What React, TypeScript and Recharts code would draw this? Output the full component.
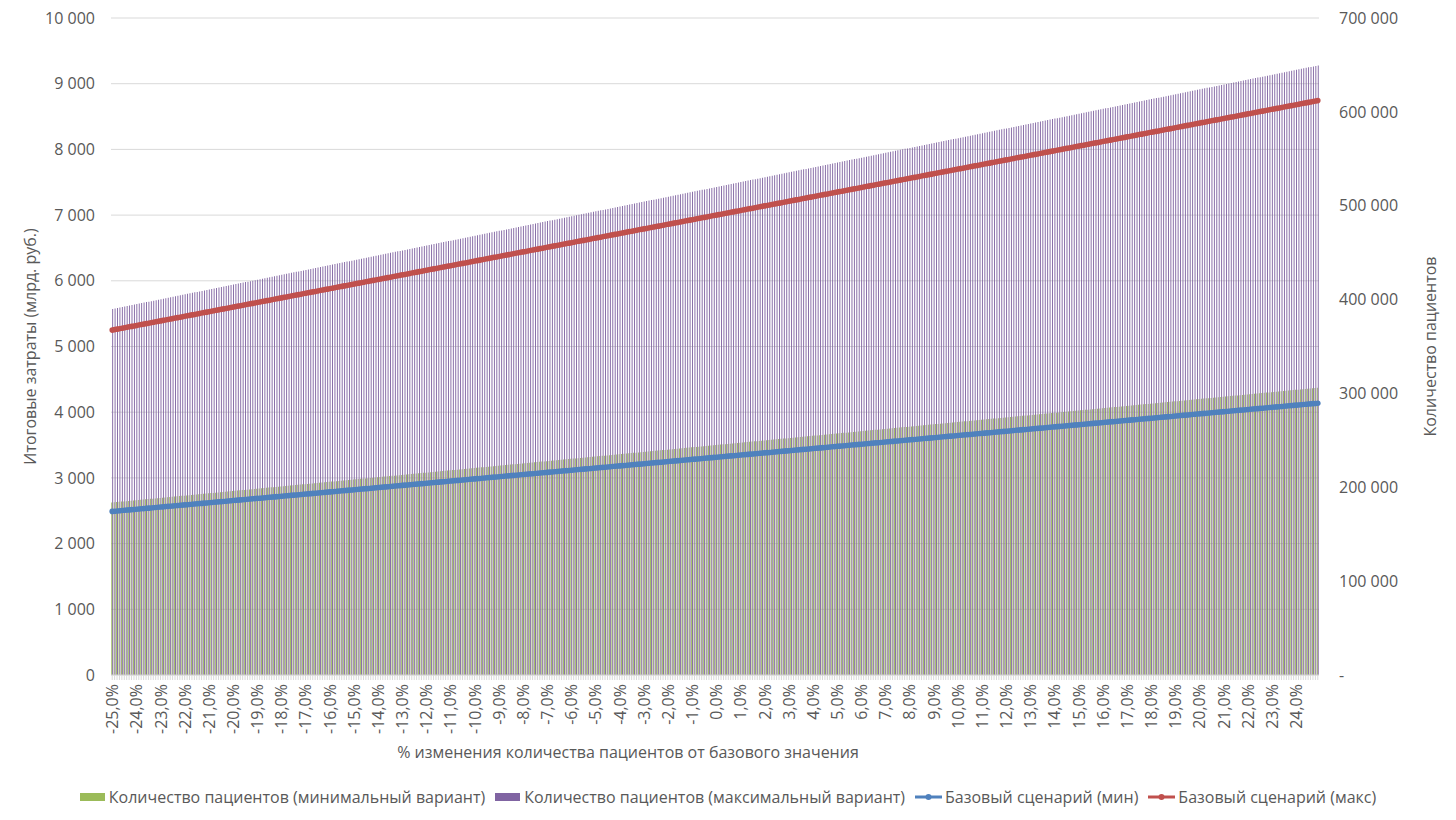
import React from "react";
import {
  ComposedChart,
  Bar,
  Line,
  XAxis,
  YAxis,
  CartesianGrid,
  Legend,
} from "recharts";

// % change of patient count from the base value, step 0,1%
const changePct = [
  -25, -24.9, -24.8, -24.7, -24.6, -24.5, -24.4, -24.3, -24.2, -24.1,
  -24, -23.9, -23.8, -23.7, -23.6, -23.5, -23.4, -23.3, -23.2, -23.1,
  -23, -22.9, -22.8, -22.7, -22.6, -22.5, -22.4, -22.3, -22.2, -22.1,
  -22, -21.9, -21.8, -21.7, -21.6, -21.5, -21.4, -21.3, -21.2, -21.1,
  -21, -20.9, -20.8, -20.7, -20.6, -20.5, -20.4, -20.3, -20.2, -20.1,
  -20, -19.9, -19.8, -19.7, -19.6, -19.5, -19.4, -19.3, -19.2, -19.1,
  -19, -18.9, -18.8, -18.7, -18.6, -18.5, -18.4, -18.3, -18.2, -18.1,
  -18, -17.9, -17.8, -17.7, -17.6, -17.5, -17.4, -17.3, -17.2, -17.1,
  -17, -16.9, -16.8, -16.7, -16.6, -16.5, -16.4, -16.3, -16.2, -16.1,
  -16, -15.9, -15.8, -15.7, -15.6, -15.5, -15.4, -15.3, -15.2, -15.1,
  -15, -14.9, -14.8, -14.7, -14.6, -14.5, -14.4, -14.3, -14.2, -14.1,
  -14, -13.9, -13.8, -13.7, -13.6, -13.5, -13.4, -13.3, -13.2, -13.1,
  -13, -12.9, -12.8, -12.7, -12.6, -12.5, -12.4, -12.3, -12.2, -12.1,
  -12, -11.9, -11.8, -11.7, -11.6, -11.5, -11.4, -11.3, -11.2, -11.1,
  -11, -10.9, -10.8, -10.7, -10.6, -10.5, -10.4, -10.3, -10.2, -10.1,
  -10, -9.9, -9.8, -9.7, -9.6, -9.5, -9.4, -9.3, -9.2, -9.1,
  -9, -8.9, -8.8, -8.7, -8.6, -8.5, -8.4, -8.3, -8.2, -8.1,
  -8, -7.9, -7.8, -7.7, -7.6, -7.5, -7.4, -7.3, -7.2, -7.1,
  -7, -6.9, -6.8, -6.7, -6.6, -6.5, -6.4, -6.3, -6.2, -6.1,
  -6, -5.9, -5.8, -5.7, -5.6, -5.5, -5.4, -5.3, -5.2, -5.1,
  -5, -4.9, -4.8, -4.7, -4.6, -4.5, -4.4, -4.3, -4.2, -4.1,
  -4, -3.9, -3.8, -3.7, -3.6, -3.5, -3.4, -3.3, -3.2, -3.1,
  -3, -2.9, -2.8, -2.7, -2.6, -2.5, -2.4, -2.3, -2.2, -2.1,
  -2, -1.9, -1.8, -1.7, -1.6, -1.5, -1.4, -1.3, -1.2, -1.1,
  -1, -0.9, -0.8, -0.7, -0.6, -0.5, -0.4, -0.3, -0.2, -0.1,
  0, 0.1, 0.2, 0.3, 0.4, 0.5, 0.6, 0.7, 0.8, 0.9,
  1, 1.1, 1.2, 1.3, 1.4, 1.5, 1.6, 1.7, 1.8, 1.9,
  2, 2.1, 2.2, 2.3, 2.4, 2.5, 2.6, 2.7, 2.8, 2.9,
  3, 3.1, 3.2, 3.3, 3.4, 3.5, 3.6, 3.7, 3.8, 3.9,
  4, 4.1, 4.2, 4.3, 4.4, 4.5, 4.6, 4.7, 4.8, 4.9,
  5, 5.1, 5.2, 5.3, 5.4, 5.5, 5.6, 5.7, 5.8, 5.9,
  6, 6.1, 6.2, 6.3, 6.4, 6.5, 6.6, 6.7, 6.8, 6.9,
  7, 7.1, 7.2, 7.3, 7.4, 7.5, 7.6, 7.7, 7.8, 7.9,
  8, 8.1, 8.2, 8.3, 8.4, 8.5, 8.6, 8.7, 8.8, 8.9,
  9, 9.1, 9.2, 9.3, 9.4, 9.5, 9.6, 9.7, 9.8, 9.9,
  10, 10.1, 10.2, 10.3, 10.4, 10.5, 10.6, 10.7, 10.8, 10.9,
  11, 11.1, 11.2, 11.3, 11.4, 11.5, 11.6, 11.7, 11.8, 11.9,
  12, 12.1, 12.2, 12.3, 12.4, 12.5, 12.6, 12.7, 12.8, 12.9,
  13, 13.1, 13.2, 13.3, 13.4, 13.5, 13.6, 13.7, 13.8, 13.9,
  14, 14.1, 14.2, 14.3, 14.4, 14.5, 14.6, 14.7, 14.8, 14.9,
  15, 15.1, 15.2, 15.3, 15.4, 15.5, 15.6, 15.7, 15.8, 15.9,
  16, 16.1, 16.2, 16.3, 16.4, 16.5, 16.6, 16.7, 16.8, 16.9,
  17, 17.1, 17.2, 17.3, 17.4, 17.5, 17.6, 17.7, 17.8, 17.9,
  18, 18.1, 18.2, 18.3, 18.4, 18.5, 18.6, 18.7, 18.8, 18.9,
  19, 19.1, 19.2, 19.3, 19.4, 19.5, 19.6, 19.7, 19.8, 19.9,
  20, 20.1, 20.2, 20.3, 20.4, 20.5, 20.6, 20.7, 20.8, 20.9,
  21, 21.1, 21.2, 21.3, 21.4, 21.5, 21.6, 21.7, 21.8, 21.9,
  22, 22.1, 22.2, 22.3, 22.4, 22.5, 22.6, 22.7, 22.8, 22.9,
  23, 23.1, 23.2, 23.3, 23.4, 23.5, 23.6, 23.7, 23.8, 23.9,
  24, 24.1, 24.2, 24.3, 24.4, 24.5, 24.6, 24.7, 24.8, 24.9,
];

// patients, minimal variant (right axis)
const patientsMin = [
  183750, 183995, 184240, 184485, 184730, 184975, 185220, 185465, 185710, 185955,
  186200, 186445, 186690, 186935, 187180, 187425, 187670, 187915, 188160, 188405,
  188650, 188895, 189140, 189385, 189630, 189875, 190120, 190365, 190610, 190855,
  191100, 191345, 191590, 191835, 192080, 192325, 192570, 192815, 193060, 193305,
  193550, 193795, 194040, 194285, 194530, 194775, 195020, 195265, 195510, 195755,
  196000, 196245, 196490, 196735, 196980, 197225, 197470, 197715, 197960, 198205,
  198450, 198695, 198940, 199185, 199430, 199675, 199920, 200165, 200410, 200655,
  200900, 201145, 201390, 201635, 201880, 202125, 202370, 202615, 202860, 203105,
  203350, 203595, 203840, 204085, 204330, 204575, 204820, 205065, 205310, 205555,
  205800, 206045, 206290, 206535, 206780, 207025, 207270, 207515, 207760, 208005,
  208250, 208495, 208740, 208985, 209230, 209475, 209720, 209965, 210210, 210455,
  210700, 210945, 211190, 211435, 211680, 211925, 212170, 212415, 212660, 212905,
  213150, 213395, 213640, 213885, 214130, 214375, 214620, 214865, 215110, 215355,
  215600, 215845, 216090, 216335, 216580, 216825, 217070, 217315, 217560, 217805,
  218050, 218295, 218540, 218785, 219030, 219275, 219520, 219765, 220010, 220255,
  220500, 220745, 220990, 221235, 221480, 221725, 221970, 222215, 222460, 222705,
  222950, 223195, 223440, 223685, 223930, 224175, 224420, 224665, 224910, 225155,
  225400, 225645, 225890, 226135, 226380, 226625, 226870, 227115, 227360, 227605,
  227850, 228095, 228340, 228585, 228830, 229075, 229320, 229565, 229810, 230055,
  230300, 230545, 230790, 231035, 231280, 231525, 231770, 232015, 232260, 232505,
  232750, 232995, 233240, 233485, 233730, 233975, 234220, 234465, 234710, 234955,
  235200, 235445, 235690, 235935, 236180, 236425, 236670, 236915, 237160, 237405,
  237650, 237895, 238140, 238385, 238630, 238875, 239120, 239365, 239610, 239855,
  240100, 240345, 240590, 240835, 241080, 241325, 241570, 241815, 242060, 242305,
  242550, 242795, 243040, 243285, 243530, 243775, 244020, 244265, 244510, 244755,
  245000, 245245, 245490, 245735, 245980, 246225, 246470, 246715, 246960, 247205,
  247450, 247695, 247940, 248185, 248430, 248675, 248920, 249165, 249410, 249655,
  249900, 250145, 250390, 250635, 250880, 251125, 251370, 251615, 251860, 252105,
  252350, 252595, 252840, 253085, 253330, 253575, 253820, 254065, 254310, 254555,
  254800, 255045, 255290, 255535, 255780, 256025, 256270, 256515, 256760, 257005,
  257250, 257495, 257740, 257985, 258230, 258475, 258720, 258965, 259210, 259455,
  259700, 259945, 260190, 260435, 260680, 260925, 261170, 261415, 261660, 261905,
  262150, 262395, 262640, 262885, 263130, 263375, 263620, 263865, 264110, 264355,
  264600, 264845, 265090, 265335, 265580, 265825, 266070, 266315, 266560, 266805,
  267050, 267295, 267540, 267785, 268030, 268275, 268520, 268765, 269010, 269255,
  269500, 269745, 269990, 270235, 270480, 270725, 270970, 271215, 271460, 271705,
  271950, 272195, 272440, 272685, 272930, 273175, 273420, 273665, 273910, 274155,
  274400, 274645, 274890, 275135, 275380, 275625, 275870, 276115, 276360, 276605,
  276850, 277095, 277340, 277585, 277830, 278075, 278320, 278565, 278810, 279055,
  279300, 279545, 279790, 280035, 280280, 280525, 280770, 281015, 281260, 281505,
  281750, 281995, 282240, 282485, 282730, 282975, 283220, 283465, 283710, 283955,
  284200, 284445, 284690, 284935, 285180, 285425, 285670, 285915, 286160, 286405,
  286650, 286895, 287140, 287385, 287630, 287875, 288120, 288365, 288610, 288855,
  289100, 289345, 289590, 289835, 290080, 290325, 290570, 290815, 291060, 291305,
  291550, 291795, 292040, 292285, 292530, 292775, 293020, 293265, 293510, 293755,
  294000, 294245, 294490, 294735, 294980, 295225, 295470, 295715, 295960, 296205,
  296450, 296695, 296940, 297185, 297430, 297675, 297920, 298165, 298410, 298655,
  298900, 299145, 299390, 299635, 299880, 300125, 300370, 300615, 300860, 301105,
  301350, 301595, 301840, 302085, 302330, 302575, 302820, 303065, 303310, 303555,
  303800, 304045, 304290, 304535, 304780, 305025, 305270, 305515, 305760, 306005,
];

// patients, maximal variant (right axis)
const patientsMax = [
  390000, 390520, 391040, 391560, 392080, 392600, 393120, 393640, 394160, 394680,
  395200, 395720, 396240, 396760, 397280, 397800, 398320, 398840, 399360, 399880,
  400400, 400920, 401440, 401960, 402480, 403000, 403520, 404040, 404560, 405080,
  405600, 406120, 406640, 407160, 407680, 408200, 408720, 409240, 409760, 410280,
  410800, 411320, 411840, 412360, 412880, 413400, 413920, 414440, 414960, 415480,
  416000, 416520, 417040, 417560, 418080, 418600, 419120, 419640, 420160, 420680,
  421200, 421720, 422240, 422760, 423280, 423800, 424320, 424840, 425360, 425880,
  426400, 426920, 427440, 427960, 428480, 429000, 429520, 430040, 430560, 431080,
  431600, 432120, 432640, 433160, 433680, 434200, 434720, 435240, 435760, 436280,
  436800, 437320, 437840, 438360, 438880, 439400, 439920, 440440, 440960, 441480,
  442000, 442520, 443040, 443560, 444080, 444600, 445120, 445640, 446160, 446680,
  447200, 447720, 448240, 448760, 449280, 449800, 450320, 450840, 451360, 451880,
  452400, 452920, 453440, 453960, 454480, 455000, 455520, 456040, 456560, 457080,
  457600, 458120, 458640, 459160, 459680, 460200, 460720, 461240, 461760, 462280,
  462800, 463320, 463840, 464360, 464880, 465400, 465920, 466440, 466960, 467480,
  468000, 468520, 469040, 469560, 470080, 470600, 471120, 471640, 472160, 472680,
  473200, 473720, 474240, 474760, 475280, 475800, 476320, 476840, 477360, 477880,
  478400, 478920, 479440, 479960, 480480, 481000, 481520, 482040, 482560, 483080,
  483600, 484120, 484640, 485160, 485680, 486200, 486720, 487240, 487760, 488280,
  488800, 489320, 489840, 490360, 490880, 491400, 491920, 492440, 492960, 493480,
  494000, 494520, 495040, 495560, 496080, 496600, 497120, 497640, 498160, 498680,
  499200, 499720, 500240, 500760, 501280, 501800, 502320, 502840, 503360, 503880,
  504400, 504920, 505440, 505960, 506480, 507000, 507520, 508040, 508560, 509080,
  509600, 510120, 510640, 511160, 511680, 512200, 512720, 513240, 513760, 514280,
  514800, 515320, 515840, 516360, 516880, 517400, 517920, 518440, 518960, 519480,
  520000, 520520, 521040, 521560, 522080, 522600, 523120, 523640, 524160, 524680,
  525200, 525720, 526240, 526760, 527280, 527800, 528320, 528840, 529360, 529880,
  530400, 530920, 531440, 531960, 532480, 533000, 533520, 534040, 534560, 535080,
  535600, 536120, 536640, 537160, 537680, 538200, 538720, 539240, 539760, 540280,
  540800, 541320, 541840, 542360, 542880, 543400, 543920, 544440, 544960, 545480,
  546000, 546520, 547040, 547560, 548080, 548600, 549120, 549640, 550160, 550680,
  551200, 551720, 552240, 552760, 553280, 553800, 554320, 554840, 555360, 555880,
  556400, 556920, 557440, 557960, 558480, 559000, 559520, 560040, 560560, 561080,
  561600, 562120, 562640, 563160, 563680, 564200, 564720, 565240, 565760, 566280,
  566800, 567320, 567840, 568360, 568880, 569400, 569920, 570440, 570960, 571480,
  572000, 572520, 573040, 573560, 574080, 574600, 575120, 575640, 576160, 576680,
  577200, 577720, 578240, 578760, 579280, 579800, 580320, 580840, 581360, 581880,
  582400, 582920, 583440, 583960, 584480, 585000, 585520, 586040, 586560, 587080,
  587600, 588120, 588640, 589160, 589680, 590200, 590720, 591240, 591760, 592280,
  592800, 593320, 593840, 594360, 594880, 595400, 595920, 596440, 596960, 597480,
  598000, 598520, 599040, 599560, 600080, 600600, 601120, 601640, 602160, 602680,
  603200, 603720, 604240, 604760, 605280, 605800, 606320, 606840, 607360, 607880,
  608400, 608920, 609440, 609960, 610480, 611000, 611520, 612040, 612560, 613080,
  613600, 614120, 614640, 615160, 615680, 616200, 616720, 617240, 617760, 618280,
  618800, 619320, 619840, 620360, 620880, 621400, 621920, 622440, 622960, 623480,
  624000, 624520, 625040, 625560, 626080, 626600, 627120, 627640, 628160, 628680,
  629200, 629720, 630240, 630760, 631280, 631800, 632320, 632840, 633360, 633880,
  634400, 634920, 635440, 635960, 636480, 637000, 637520, 638040, 638560, 639080,
  639600, 640120, 640640, 641160, 641680, 642200, 642720, 643240, 643760, 644280,
  644800, 645320, 645840, 646360, 646880, 647400, 647920, 648440, 648960, 649480,
];

// total costs, base scenario (min), bn rub (left axis)
const costBaseMin = [
  2490, 2493.3, 2496.6, 2499.9, 2503.2, 2506.5, 2509.8, 2513.1, 2516.4, 2519.7,
  2523, 2526.3, 2529.6, 2532.9, 2536.2, 2539.5, 2542.8, 2546.1, 2549.4, 2552.7,
  2556, 2559.3, 2562.6, 2565.9, 2569.2, 2572.5, 2575.8, 2579.1, 2582.4, 2585.7,
  2589, 2592.3, 2595.6, 2598.9, 2602.2, 2605.5, 2608.8, 2612.1, 2615.4, 2618.7,
  2622, 2625.3, 2628.6, 2631.9, 2635.2, 2638.5, 2641.8, 2645.1, 2648.4, 2651.7,
  2655, 2658.3, 2661.6, 2664.9, 2668.2, 2671.5, 2674.8, 2678.1, 2681.4, 2684.7,
  2688, 2691.3, 2694.6, 2697.9, 2701.2, 2704.5, 2707.8, 2711.1, 2714.4, 2717.7,
  2721, 2724.3, 2727.6, 2730.9, 2734.2, 2737.5, 2740.8, 2744.1, 2747.4, 2750.7,
  2754, 2757.3, 2760.6, 2763.9, 2767.2, 2770.5, 2773.8, 2777.1, 2780.4, 2783.7,
  2787, 2790.3, 2793.6, 2796.9, 2800.2, 2803.5, 2806.8, 2810.1, 2813.4, 2816.7,
  2820, 2823.3, 2826.6, 2829.9, 2833.2, 2836.5, 2839.8, 2843.1, 2846.4, 2849.7,
  2853, 2856.3, 2859.6, 2862.9, 2866.2, 2869.5, 2872.8, 2876.1, 2879.4, 2882.7,
  2886, 2889.3, 2892.6, 2895.9, 2899.2, 2902.5, 2905.8, 2909.1, 2912.4, 2915.7,
  2919, 2922.3, 2925.6, 2928.9, 2932.2, 2935.5, 2938.8, 2942.1, 2945.4, 2948.7,
  2952, 2955.3, 2958.6, 2961.9, 2965.2, 2968.5, 2971.8, 2975.1, 2978.4, 2981.7,
  2985, 2988.3, 2991.6, 2994.9, 2998.2, 3001.5, 3004.8, 3008.1, 3011.4, 3014.7,
  3018, 3021.3, 3024.6, 3027.9, 3031.2, 3034.5, 3037.8, 3041.1, 3044.4, 3047.7,
  3051, 3054.3, 3057.6, 3060.9, 3064.2, 3067.5, 3070.8, 3074.1, 3077.4, 3080.7,
  3084, 3087.3, 3090.6, 3093.9, 3097.2, 3100.5, 3103.8, 3107.1, 3110.4, 3113.7,
  3117, 3120.3, 3123.6, 3126.9, 3130.2, 3133.5, 3136.8, 3140.1, 3143.4, 3146.7,
  3150, 3153.3, 3156.6, 3159.9, 3163.2, 3166.5, 3169.8, 3173.1, 3176.4, 3179.7,
  3183, 3186.3, 3189.6, 3192.9, 3196.2, 3199.5, 3202.8, 3206.1, 3209.4, 3212.7,
  3216, 3219.3, 3222.6, 3225.9, 3229.2, 3232.5, 3235.8, 3239.1, 3242.4, 3245.7,
  3249, 3252.3, 3255.6, 3258.9, 3262.2, 3265.5, 3268.8, 3272.1, 3275.4, 3278.7,
  3282, 3285.3, 3288.6, 3291.9, 3295.2, 3298.5, 3301.8, 3305.1, 3308.4, 3311.7,
  3315, 3318.3, 3321.6, 3324.9, 3328.2, 3331.5, 3334.8, 3338.1, 3341.4, 3344.7,
  3348, 3351.3, 3354.6, 3357.9, 3361.2, 3364.5, 3367.8, 3371.1, 3374.4, 3377.7,
  3381, 3384.3, 3387.6, 3390.9, 3394.2, 3397.5, 3400.8, 3404.1, 3407.4, 3410.7,
  3414, 3417.3, 3420.6, 3423.9, 3427.2, 3430.5, 3433.8, 3437.1, 3440.4, 3443.7,
  3447, 3450.3, 3453.6, 3456.9, 3460.2, 3463.5, 3466.8, 3470.1, 3473.4, 3476.7,
  3480, 3483.3, 3486.6, 3489.9, 3493.2, 3496.5, 3499.8, 3503.1, 3506.4, 3509.7,
  3513, 3516.3, 3519.6, 3522.9, 3526.2, 3529.5, 3532.8, 3536.1, 3539.4, 3542.7,
  3546, 3549.3, 3552.6, 3555.9, 3559.2, 3562.5, 3565.8, 3569.1, 3572.4, 3575.7,
  3579, 3582.3, 3585.6, 3588.9, 3592.2, 3595.5, 3598.8, 3602.1, 3605.4, 3608.7,
  3612, 3615.3, 3618.6, 3621.9, 3625.2, 3628.5, 3631.8, 3635.1, 3638.4, 3641.7,
  3645, 3648.3, 3651.6, 3654.9, 3658.2, 3661.5, 3664.8, 3668.1, 3671.4, 3674.7,
  3678, 3681.3, 3684.6, 3687.9, 3691.2, 3694.5, 3697.8, 3701.1, 3704.4, 3707.7,
  3711, 3714.3, 3717.6, 3720.9, 3724.2, 3727.5, 3730.8, 3734.1, 3737.4, 3740.7,
  3744, 3747.3, 3750.6, 3753.9, 3757.2, 3760.5, 3763.8, 3767.1, 3770.4, 3773.7,
  3777, 3780.3, 3783.6, 3786.9, 3790.2, 3793.5, 3796.8, 3800.1, 3803.4, 3806.7,
  3810, 3813.3, 3816.6, 3819.9, 3823.2, 3826.5, 3829.8, 3833.1, 3836.4, 3839.7,
  3843, 3846.3, 3849.6, 3852.9, 3856.2, 3859.5, 3862.8, 3866.1, 3869.4, 3872.7,
  3876, 3879.3, 3882.6, 3885.9, 3889.2, 3892.5, 3895.8, 3899.1, 3902.4, 3905.7,
  3909, 3912.3, 3915.6, 3918.9, 3922.2, 3925.5, 3928.8, 3932.1, 3935.4, 3938.7,
  3942, 3945.3, 3948.6, 3951.9, 3955.2, 3958.5, 3961.8, 3965.1, 3968.4, 3971.7,
  3975, 3978.3, 3981.6, 3984.9, 3988.2, 3991.5, 3994.8, 3998.1, 4001.4, 4004.7,
  4008, 4011.3, 4014.6, 4017.9, 4021.2, 4024.5, 4027.8, 4031.1, 4034.4, 4037.7,
  4041, 4044.3, 4047.6, 4050.9, 4054.2, 4057.5, 4060.8, 4064.1, 4067.4, 4070.7,
  4074, 4077.3, 4080.6, 4083.9, 4087.2, 4090.5, 4093.8, 4097.1, 4100.4, 4103.7,
  4107, 4110.3, 4113.6, 4116.9, 4120.2, 4123.5, 4126.8, 4130.1, 4133.4, 4136.7,
];

// total costs, base scenario (max), bn rub (left axis)
const costBaseMax = [
  5250, 5257, 5264, 5271, 5278, 5285, 5292, 5299, 5306, 5313,
  5320, 5327, 5334, 5341, 5348, 5355, 5362, 5369, 5376, 5383,
  5390, 5397, 5404, 5411, 5418, 5425, 5432, 5439, 5446, 5453,
  5460, 5467, 5474, 5481, 5488, 5495, 5502, 5509, 5516, 5523,
  5530, 5537, 5544, 5551, 5558, 5565, 5572, 5579, 5586, 5593,
  5600, 5607, 5614, 5621, 5628, 5635, 5642, 5649, 5656, 5663,
  5670, 5677, 5684, 5691, 5698, 5705, 5712, 5719, 5726, 5733,
  5740, 5747, 5754, 5761, 5768, 5775, 5782, 5789, 5796, 5803,
  5810, 5817, 5824, 5831, 5838, 5845, 5852, 5859, 5866, 5873,
  5880, 5887, 5894, 5901, 5908, 5915, 5922, 5929, 5936, 5943,
  5950, 5957, 5964, 5971, 5978, 5985, 5992, 5999, 6006, 6013,
  6020, 6027, 6034, 6041, 6048, 6055, 6062, 6069, 6076, 6083,
  6090, 6097, 6104, 6111, 6118, 6125, 6132, 6139, 6146, 6153,
  6160, 6167, 6174, 6181, 6188, 6195, 6202, 6209, 6216, 6223,
  6230, 6237, 6244, 6251, 6258, 6265, 6272, 6279, 6286, 6293,
  6300, 6307, 6314, 6321, 6328, 6335, 6342, 6349, 6356, 6363,
  6370, 6377, 6384, 6391, 6398, 6405, 6412, 6419, 6426, 6433,
  6440, 6447, 6454, 6461, 6468, 6475, 6482, 6489, 6496, 6503,
  6510, 6517, 6524, 6531, 6538, 6545, 6552, 6559, 6566, 6573,
  6580, 6587, 6594, 6601, 6608, 6615, 6622, 6629, 6636, 6643,
  6650, 6657, 6664, 6671, 6678, 6685, 6692, 6699, 6706, 6713,
  6720, 6727, 6734, 6741, 6748, 6755, 6762, 6769, 6776, 6783,
  6790, 6797, 6804, 6811, 6818, 6825, 6832, 6839, 6846, 6853,
  6860, 6867, 6874, 6881, 6888, 6895, 6902, 6909, 6916, 6923,
  6930, 6937, 6944, 6951, 6958, 6965, 6972, 6979, 6986, 6993,
  7000, 7007, 7014, 7021, 7028, 7035, 7042, 7049, 7056, 7063,
  7070, 7077, 7084, 7091, 7098, 7105, 7112, 7119, 7126, 7133,
  7140, 7147, 7154, 7161, 7168, 7175, 7182, 7189, 7196, 7203,
  7210, 7217, 7224, 7231, 7238, 7245, 7252, 7259, 7266, 7273,
  7280, 7287, 7294, 7301, 7308, 7315, 7322, 7329, 7336, 7343,
  7350, 7357, 7364, 7371, 7378, 7385, 7392, 7399, 7406, 7413,
  7420, 7427, 7434, 7441, 7448, 7455, 7462, 7469, 7476, 7483,
  7490, 7497, 7504, 7511, 7518, 7525, 7532, 7539, 7546, 7553,
  7560, 7567, 7574, 7581, 7588, 7595, 7602, 7609, 7616, 7623,
  7630, 7637, 7644, 7651, 7658, 7665, 7672, 7679, 7686, 7693,
  7700, 7707, 7714, 7721, 7728, 7735, 7742, 7749, 7756, 7763,
  7770, 7777, 7784, 7791, 7798, 7805, 7812, 7819, 7826, 7833,
  7840, 7847, 7854, 7861, 7868, 7875, 7882, 7889, 7896, 7903,
  7910, 7917, 7924, 7931, 7938, 7945, 7952, 7959, 7966, 7973,
  7980, 7987, 7994, 8001, 8008, 8015, 8022, 8029, 8036, 8043,
  8050, 8057, 8064, 8071, 8078, 8085, 8092, 8099, 8106, 8113,
  8120, 8127, 8134, 8141, 8148, 8155, 8162, 8169, 8176, 8183,
  8190, 8197, 8204, 8211, 8218, 8225, 8232, 8239, 8246, 8253,
  8260, 8267, 8274, 8281, 8288, 8295, 8302, 8309, 8316, 8323,
  8330, 8337, 8344, 8351, 8358, 8365, 8372, 8379, 8386, 8393,
  8400, 8407, 8414, 8421, 8428, 8435, 8442, 8449, 8456, 8463,
  8470, 8477, 8484, 8491, 8498, 8505, 8512, 8519, 8526, 8533,
  8540, 8547, 8554, 8561, 8568, 8575, 8582, 8589, 8596, 8603,
  8610, 8617, 8624, 8631, 8638, 8645, 8652, 8659, 8666, 8673,
  8680, 8687, 8694, 8701, 8708, 8715, 8722, 8729, 8736, 8743,
];

const costTicks = [0, 1000, 2000, 3000, 4000, 5000, 6000, 7000, 8000, 9000, 10000];
const patientTicks = [0, 100000, 200000, 300000, 400000, 500000, 600000, 700000];

const GREEN = "#9BBB59";
const PURPLE = "#8064A2";
const BLUE = "#4F81BD";
const RED = "#C0504D";
const TEXT = "#595959";
const GRID = "#d9d9d9";
const FONT = "'Open Sans', sans-serif";

const data = changePct.map((pct, i) => ({
  pct,
  patientsMin: patientsMin[i],
  patientsMax: patientsMax[i],
  costMin: costBaseMin[i],
  costMax: costBaseMax[i],
}));

const fmtSpaces = (v: number) =>
  String(v).replace(/\B(?=(\d{3})+(?!\d))/g, " ");
const fmtPct = (v: number) => v.toFixed(1).replace(".", ",") + "%";

// plot box: left 111, top 18, right 1319, bottom 675
const PLOT = { left: 111, top: 18, right: 1319, bottom: 675 };

const PctTick = ({ x, y, payload, index }: any) => {
  if (index % 10 !== 0) return <g />;
  return (
    <text
      x={x}
      y={y}
      transform={`rotate(-90, ${x}, ${y})`}
      textAnchor="end"
      dominantBaseline="central"
      fill={TEXT}
      fontSize={16}
      fontFamily={FONT}
    >
      {fmtPct(payload.value)}
    </text>
  );
};

const XTitle = () => (
  <text
    x={(PLOT.left + PLOT.right) / 2 - 87}
    y={758}
    textAnchor="middle"
    fill={TEXT}
    fontSize={16}
    fontFamily={FONT}
  >
    % изменения количества пациентов от базового значения
  </text>
);

// own prop names, so recharts' cloned x/y don't override them
const VTitle = ({ cx, text }: { cx: number; text: string }) => {
  const cy = (PLOT.top + PLOT.bottom) / 2;
  return (
    <text
      x={cx}
      y={cy}
      transform={`rotate(-90, ${cx}, ${cy})`}
      textAnchor="middle"
      dominantBaseline="central"
      fill={TEXT}
      fontSize={16}
      fontFamily={FONT}
    >
      {text}
    </text>
  );
};

const legendItems = [
  { label: "Количество пациентов (минимальный вариант)", color: GREEN, kind: "bar" },
  { label: "Количество пациентов (максимальный вариант)", color: PURPLE, kind: "bar" },
  { label: "Базовый сценарий (мин)", color: BLUE, kind: "line" },
  { label: "Базовый сценарий (макс)", color: RED, kind: "line" },
];

const ChartLegend = () => (
  <div
    style={{
      display: "flex",
      justifyContent: "center",
      alignItems: "center",
      height: 30,
      fontSize: 16,
      color: TEXT,
      fontFamily: FONT,
      whiteSpace: "nowrap",
    }}
  >
    {legendItems.map((item) => (
      <div
        key={item.label}
        style={{ display: "flex", alignItems: "center", margin: "0 5px" }}
      >
        {item.kind === "bar" ? (
          <span
            style={{
              display: "inline-block",
              width: 25,
              height: 8,
              background: item.color,
              marginRight: 4,
            }}
          />
        ) : (
          <svg width={27} height={8} style={{ marginRight: 3 }}>
            <line x1={0} y1={4} x2={27} y2={4} stroke={item.color} strokeWidth={3} />
            <circle cx={13.5} cy={4} r={3} fill={item.color} />
          </svg>
        )}
        <span>{item.label}</span>
      </div>
    ))}
  </div>
);

export default function App() {
  return (
    <div style={{ width: 1456, height: 820, fontFamily: FONT, background: "#fff" }}>
      <style>{"body{margin:0}"}</style>
      <ComposedChart
        width={1456}
        height={820}
        data={data}
        margin={{ top: PLOT.top, right: 0, bottom: 8, left: 0 }}
        barCategoryGap="12%"
        barGap={0}
      >
        <CartesianGrid yAxisId="cost" vertical={false} stroke={GRID} />
        <XAxis
          dataKey="pct"
          interval={0}
          height={107}
          tick={<PctTick />}
          tickSize={5}
          tickMargin={4}
          tickLine={{ stroke: GRID }}
          axisLine={{ stroke: GRID }}
          label={<XTitle />}
        />
        <YAxis
          yAxisId="cost"
          domain={[0, 10000]}
          ticks={costTicks}
          interval={0}
          width={PLOT.left}
          tickLine={false}
          axisLine={false}
          tickMargin={10}
          tick={{ fill: TEXT, fontSize: 16, fontFamily: FONT }}
          tickFormatter={fmtSpaces}
          label={<VTitle cx={30} text="Итоговые затраты (млрд. руб.)" />}
        />
        <YAxis
          yAxisId="patients"
          orientation="right"
          domain={[0, 700000]}
          ticks={patientTicks}
          interval={0}
          width={1456 - PLOT.right}
          tickLine={false}
          axisLine={false}
          tickMargin={14}
          tick={{ fill: TEXT, fontSize: 16, fontFamily: FONT }}
          tickFormatter={(v: number) => (v === 0 ? "-" : fmtSpaces(v))}
          label={<VTitle cx={1430} text="Количество пациентов" />}
        />
        <Legend verticalAlign="bottom" content={<ChartLegend />} />
        <Bar
          yAxisId="patients"
          dataKey="patientsMin"
          name="Количество пациентов (минимальный вариант)"
          fill={GREEN}
          isAnimationActive={false}
        />
        <Bar
          yAxisId="patients"
          dataKey="patientsMax"
          name="Количество пациентов (максимальный вариант)"
          fill={PURPLE}
          isAnimationActive={false}
        />
        <Line
          yAxisId="cost"
          dataKey="costMin"
          name="Базовый сценарий (мин)"
          stroke={BLUE}
          strokeWidth={3}
          dot={{ r: 2.8, fill: BLUE, stroke: "none" }}
          activeDot={false}
          isAnimationActive={false}
        />
        <Line
          yAxisId="cost"
          dataKey="costMax"
          name="Базовый сценарий (макс)"
          stroke={RED}
          strokeWidth={3}
          dot={{ r: 2.8, fill: RED, stroke: "none" }}
          activeDot={false}
          isAnimationActive={false}
        />
      </ComposedChart>
    </div>
  );
}
